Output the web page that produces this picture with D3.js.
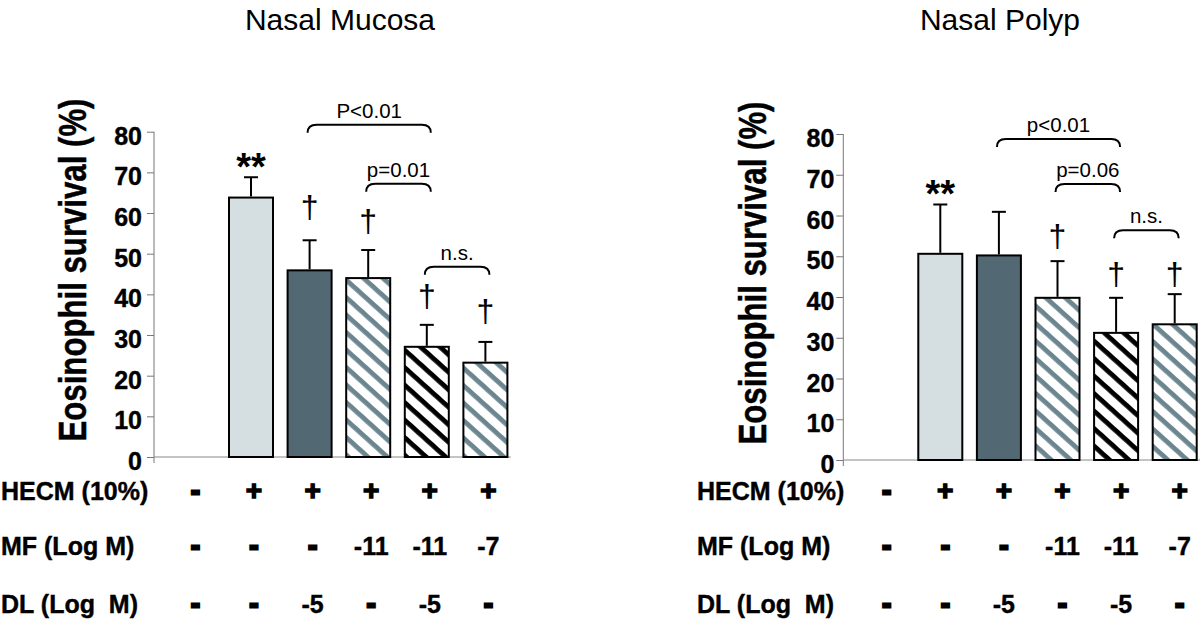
<!DOCTYPE html>
<html>
<head>
<meta charset="utf-8">
<script src="https://cdn.jsdelivr.net/npm/d3@7"></script>
<style>
  html, body { margin: 0; padding: 0; background: #fff; }
  svg { display: block; font-family: Arial, "Liberation Sans", Helvetica, sans-serif; }
</style>
</head>
<body>
<svg id="chart" width="1200" height="632"></svg>
<script>
// ---------- DATA ----------
const categories = ["Control", "HECM", "HECM+DL", "HECM+MF-11", "HECM+MF-11+DL", "HECM+MF-7"];
const yTicks = [0, 10, 20, 30, 40, 50, 60, 70, 80];

const mucosaMean = [null, 63.8, 45.9, 44.0, 27.1, 23.2];
const mucosaSD   = [null, 5.0, 7.4, 6.9, 5.4, 5.1];
const mucosaStars   = ["", "**", "", "", "", ""];
const mucosaDaggerLevel = [null, null, 58.1, 54.6, 36.2, 32.5];
const mucosaBrackets = [
  { from: 2, to: 4, level: 81.7, label: "P<0.01" },
  { from: 3, to: 4, level: 67.2, label: "p=0.01" },
  { from: 4, to: 5, level: 46.8, label: "n.s." }
];

const polypMean = [null, 50.6, 50.2, 39.8, 31.2, 33.3];
const polypSD   = [null, 12.1, 10.7, 9.0, 8.6, 7.4];
const polypStars   = ["", "**", "", "", "", ""];
const polypDaggerLevel = [null, null, null, 51.5, 42.2, 42.2];
const polypBrackets = [
  { from: 2, to: 4, level: 78.8, label: "p<0.01" },
  { from: 3, to: 4, level: 67.7, label: "p=0.06" },
  { from: 4, to: 5, level: 56.4, label: "n.s." }
];

const rowLabels = ["HECM (10%)", "MF (Log M)", "DL (Log  M)"];
const hecmRow = ["-", "+", "+", "+", "+", "+"];
const mfRow   = ["-", "-", "-", "-11", "-11", "-7"];
const dlRow   = ["-", "-", "-5", "-", "-5", "-"];

const titles = ["Nasal Mucosa", "Nasal Polyp"];
const yTitle = "Eosinophil survival (%)";

// ---------- STYLE ----------
const fills = ["none", "#d5dfe2", "#526873", "url(#stripeGray)", "url(#stripeBlack)", "url(#stripeGray)"];

const svg = d3.select("#chart");
const defs = svg.append("defs");
function stripe(id, color) {
  const s = 13;
  const p = defs.append("pattern")
    .attr("id", id)
    .attr("patternUnits", "userSpaceOnUse")
    .attr("width", s).attr("height", s)
    .attr("patternTransform", "rotate(42)");
  p.append("rect").attr("width", s).attr("height", s).attr("fill", "#fff");
  p.append("rect").attr("x", 0).attr("y", 0).attr("width", s).attr("height", 4.8).attr("fill", color);
}
stripe("stripeGray", "#6c8690");
stripe("stripeBlack", "#000");

const panels = [
  { title: titles[0], titleX: 340, mean: mucosaMean, sd: mucosaSD, stars: mucosaStars,
    dag: mucosaDaggerLevel, brackets: mucosaBrackets,
    axisX: 154, y0: 457, y80: 131.7, bandStart: 163.1, tickPad: 5,
    yTitleX: 73, yTitleY: 270, rowLabelX: 1, symShift: 3 },
  { title: titles[1], titleX: 1000, mean: polypMean, sd: polypSD, stars: polypStars,
    dag: polypDaggerLevel, brackets: polypBrackets,
    axisX: 843.3, y0: 460, y80: 134, bandStart: 852.4, tickPad: 2,
    yTitleX: 753, yTitleY: 273, rowLabelX: 697, symShift: 5 }
];

const rows = [hecmRow, mfRow, dlRow];
const rowBaselines = [500, 555, 613];

panels.forEach(P => {
  const g = svg.append("g");
  const x = d3.scaleBand().domain(categories)
    .range([P.bandStart, P.bandStart + 6 * 58.6])
    .paddingInner(0.249).paddingOuter(0.1245);
  const y = d3.scaleLinear().domain([0, 80]).range([P.y0, P.y80]);

  // title
  g.append("text").attr("x", P.titleX).attr("y", 30)
    .attr("text-anchor", "middle").attr("font-size", 30).attr("fill", "#000")
    .text(P.title);

  // y-axis title
  g.append("text")
    .attr("transform", `translate(${P.yTitleX},${P.yTitleY}) rotate(-90)`)
    .attr("text-anchor", "middle").attr("dominant-baseline", "central")
    .attr("font-size", 38).attr("font-weight", "bold")
    .attr("stroke", "#000").attr("stroke-width", 0.5)
    .attr("textLength", 343).attr("lengthAdjust", "spacingAndGlyphs")
    .text(yTitle);

  // y axis
  const axis = d3.axisLeft(y).tickValues(yTicks).tickSize(7).tickPadding(P.tickPad).tickSizeOuter(0);
  const ag = g.append("g").attr("transform", `translate(${P.axisX},0)`).call(axis);
  ag.select(".domain").remove();
  ag.selectAll(".tick line").attr("stroke", "#777");
  ag.selectAll(".tick text").attr("font-size", 25).attr("font-weight", "bold")
    .attr("fill", "#000").attr("stroke", "#000").attr("stroke-width", 0.4)
    .attr("font-family", "Arial, 'Liberation Sans', sans-serif")
    .attr("dy", "0.5em");
  g.append("line").attr("x1", P.axisX).attr("x2", P.axisX)
    .attr("y1", y(80)).attr("y2", y(0) + 6).attr("stroke", "#777").attr("stroke-width", 1);
  // baseline
  g.append("line").attr("x1", P.axisX).attr("x2", x.range()[1] - 4)
    .attr("y1", y(0)).attr("y2", y(0)).attr("stroke", "#888").attr("stroke-width", 1);

  // bars
  categories.forEach((c, i) => {
    if (P.mean[i] == null) return;
    g.append("rect")
      .attr("x", x(c)).attr("y", y(P.mean[i]))
      .attr("width", x.bandwidth()).attr("height", y(0) - y(P.mean[i]))
      .attr("fill", fills[i]).attr("stroke", "#000").attr("stroke-width", 2);
    const cx = x(c) + x.bandwidth() / 2;
    const top = y(P.mean[i] + P.sd[i]);
    g.append("line").attr("x1", cx).attr("x2", cx)
      .attr("y1", y(P.mean[i]) - 1).attr("y2", top)
      .attr("stroke", "#000").attr("stroke-width", 2);
    g.append("line").attr("x1", cx - 7).attr("x2", cx + 7)
      .attr("y1", top).attr("y2", top)
      .attr("stroke", "#000").attr("stroke-width", 2);
    if (P.stars[i]) {
      g.append("text").attr("x", cx).attr("y", top + 3)
        .attr("text-anchor", "middle").attr("font-size", 38).attr("font-weight", "bold")
        .text(P.stars[i]);
    }
    if (P.dag[i] != null) {
      g.append("text").attr("x", cx).attr("y", y(P.dag[i]) - 3)
        .attr("text-anchor", "middle").attr("font-size", 32)
        .text("†");
    }
  });

  // brackets
  P.brackets.forEach(b => {
    const x1 = x(categories[b.from]) + x.bandwidth() / 2 - 2;
    const x2 = x(categories[b.to]) + x.bandwidth() / 2 + 4;
    const yy = y(b.level);
    const r = 7;
    g.append("path")
      .attr("d", `M${x1},${yy + r + 1} Q${x1},${yy} ${x1 + r + 2},${yy} L${x2 - r - 2},${yy} Q${x2},${yy} ${x2},${yy + r + 1}`)
      .attr("fill", "none").attr("stroke", "#000").attr("stroke-width", 2);
    g.append("text").attr("x", (x1 + x2) / 2).attr("y", yy - 7)
      .attr("text-anchor", "middle").attr("font-size", 20.5).text(b.label);
  });

  // table rows
  rows.forEach((row, r) => {
    g.append("text").attr("x", P.rowLabelX).attr("y", rowBaselines[r])
      .attr("font-size", 25).attr("font-weight", "bold")
      .attr("stroke", "#000").attr("stroke-width", 0.4)
      .attr("xml:space", "preserve").style("white-space", "pre")
      .text(rowLabels[r]);
    row.forEach((s, i) => {
      const cx = x(categories[i]) + x.bandwidth() / 2 + P.symShift;
      const t = g.append("text").attr("x", cx).attr("y", rowBaselines[r] - (s === "-" ? 1 : 0))
        .attr("text-anchor", "middle").attr("font-size", s === "+" ? 28 : 25)
        .attr("font-weight", "bold").text(s);
      if (s === "-" || s === "+") {
        t.attr("stroke", "#000").attr("stroke-width", s === "-" ? 3 : 1.4)
         .attr("stroke-linejoin", "miter");
      } else {
        t.attr("stroke", "#000").attr("stroke-width", 0.4);
      }
    });
  });
});
</script>
</body>
</html>
